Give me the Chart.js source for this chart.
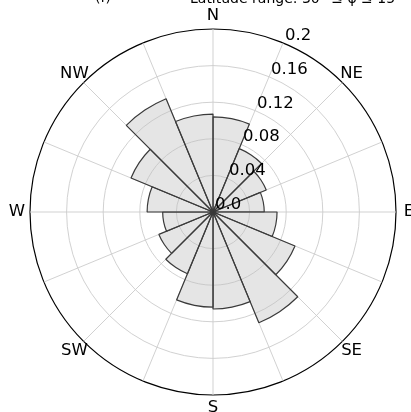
<!DOCTYPE html>
<html>
<head>
<meta charset="utf-8">
<title>Rose</title>
<script src="https://cdn.jsdelivr.net/npm/chart.js@4.4.0/dist/chart.umd.min.js"></script>
<style>
  body { margin: 0; background: #fff; }
  canvas { display: block; }
</style>
</head>
<body>
<canvas id="rose" width="411" height="412"></canvas>
<script>
// 16 sectors, clockwise from north, each 22.5 deg wide
const directions = ['N', '', 'NE', '', 'E', '', 'SE', '', 'S', '', 'SW', '', 'W', '', 'NW', ''];
const frequencies = [0.104, 0.075, 0.063, 0.056, 0.070, 0.097, 0.131, 0.106,
                     0.104, 0.073, 0.064, 0.055, 0.072, 0.097, 0.134, 0.107];
const radialTicks = [0.0, 0.04, 0.08, 0.12, 0.16, 0.2];
const tickLabels = ['0.0', '0.04', '0.08', '0.12', '0.16', '0.2'];
const panelTag = '(f)';
const titleText = 'Latitude range: 30° ≤ φ ≤ 15°';

const labelFont = '16.5px "DejaVu Sans"';

// tick labels along the 22.5 deg spoke, compass names, clipped title
const roseLabels = {
    id: 'roseLabels',
    afterDraw(chart) {
        const ctx = chart.ctx;
        const r = chart.scales.r;
        ctx.save();
        ctx.fillStyle = '#000';
        ctx.font = labelFont;
        ctx.textAlign = 'left';
        ctx.textBaseline = 'alphabetic';
        radialTicks.forEach((v, i) => {
            const p = r.getPointPosition(1, r.getDistanceFromCenterForValue(v));
            ctx.fillText(tickLabels[i], p.x + 2, p.y - 3);
        });
        ctx.textAlign = 'center';
        ctx.textBaseline = 'middle';
        directions.forEach((d, i) => {
            if (!d) return;
            const p = r.getPointPosition(i, r.drawingArea + 13);
            ctx.fillText(d, p.x, p.y);
        });
        ctx.font = '14px "DejaVu Sans"';
        ctx.textAlign = 'left';
        ctx.textBaseline = 'alphabetic';
        ctx.fillText(panelTag, 95, 2);
        ctx.fillText(titleText, 190, 3);
        ctx.restore();
    }
};

new Chart(document.getElementById('rose'), {
    type: 'polarArea',
    data: {
        labels: directions,
        datasets: [{
            data: frequencies,
            backgroundColor: 'rgba(190, 190, 190, 0.4)',
            borderColor: '#3a3a3a',
            borderWidth: 1.2
        }]
    },
    options: {
        responsive: false,
        animation: false,
        layout: { padding: { left: 30, right: 15, top: 29, bottom: 17 } },
        plugins: {
            legend: { display: false },
            tooltip: { enabled: false }
        },
        scales: {
            r: {
                min: 0,
                max: 0.2,
                startAngle: 0,
                afterBuildTicks: (scale) => {
                    scale.ticks = radialTicks.map(v => ({ value: v }));
                },
                ticks: { display: false },
                pointLabels: { display: false },
                grid: {
                    circular: true,
                    color: (c) => c.index === radialTicks.length - 1 ? '#000' : '#cccccc',
                    lineWidth: (c) => c.index === radialTicks.length - 1 ? 1.2 : 0.9
                },
                angleLines: { display: true, color: '#cccccc', lineWidth: 0.9 }
            }
        }
    },
    plugins: [roseLabels]
});
</script>
</body>
</html>
